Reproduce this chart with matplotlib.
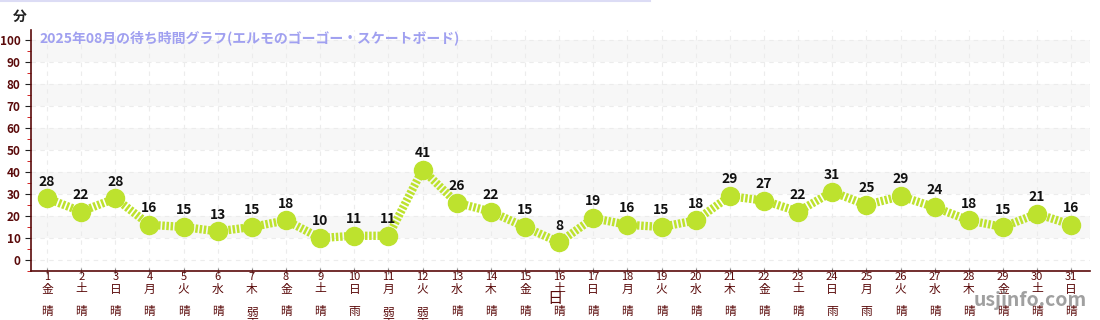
import matplotlib
matplotlib.use("Agg")
import matplotlib.pyplot as plt
from matplotlib.ticker import MultipleLocator

plt.rcParams['font.family'] = ['Noto Sans CJK JP', 'DejaVu Sans']

days = list(range(1, 32))
weekdays = ["金", "土", "日", "月", "火", "水", "木", "金", "土", "日", "月", "火", "水", "木", "金",
            "土", "日", "月", "火", "水", "木", "金", "土", "日", "月", "火", "水", "木", "金", "土", "日"]
weather = ["晴", "晴", "晴", "晴", "晴", "晴", "弱雨", "晴", "晴", "雨", "弱雨", "弱雨", "晴", "晴", "晴",
           "晴", "晴", "晴", "晴", "晴", "晴", "晴", "晴", "雨", "雨", "晴", "晴", "晴", "晴", "晴", "晴"]
wait_min = [28, 22, 28, 16, 15, 13, 15, 18, 10, 11, 11, 41, 26, 22, 15, 8,
            19, 16, 15, 18, 29, 27, 22, 31, 25, 29, 24, 18, 15, 21, 16]

title = "2025年08月の待ち時間グラフ(エルモのゴーゴー・スケートボード)"
axis_red = "#5a0a0a"
green = "#bde22e"

W, H = 1100, 320
ax_bottom_px, ax_top_px = 271, 30
ax_h_px = ax_bottom_px - ax_top_px

fig = plt.figure(figsize=(11, 3.2), dpi=100)
ax = fig.add_axes([31 / W, 1 - ax_bottom_px / H, 1059 / W, ax_h_px / H])


def below(px):
    # axes-fraction y for a figure pixel row below the axes
    return -(px - ax_bottom_px) / ax_h_px


# alternating bands
for lo in range(10, 100, 20):
    ax.axhspan(lo, lo + 10, color="#f7f7f7", zorder=0, lw=0)

ax.plot(days, wait_min, color=green, lw=6, linestyle=(0, (0.3, 0.2)),
        marker="o", markersize=13, markerfacecolor=green, markeredgecolor=green, zorder=3)

for d, v in zip(days, wait_min):
    ax.annotate(str(v), (d, v), xytext=(0, 7), textcoords="offset points",
                ha="center", va="bottom", fontsize=10, fontweight="bold", color="#111111", zorder=4)

ax.set_xlim(0.53, 31.55)
ax.set_ylim(-5, 104.5)
ax.set_xticks(days)
ax.set_xticklabels([])
xt = ax.get_xaxis_transform()
for d, w, wt in zip(days, weekdays, weather):
    ax.text(d, below(277.5), str(d), transform=xt, ha="center", va="center",
            fontsize=8, color=axis_red, clip_on=False)
    ax.text(d, below(289), w, transform=xt, ha="center", va="center",
            fontsize=8.5, color=axis_red, clip_on=False)
    for i, ch in enumerate(wt):
        ax.text(d, below(312 + 12 * i), ch, transform=xt, ha="center", va="center",
                fontsize=8.5, color=axis_red, clip_on=False)

ax.set_yticks(range(0, 101, 10))
ax.yaxis.set_minor_locator(MultipleLocator(5))
ax.tick_params(axis="y", which="major", labelsize=8.5, labelcolor=axis_red, color="#222222", length=4)
ax.tick_params(axis="y", which="minor", color="#cc0000", length=3)
ax.tick_params(axis="x", color="#888888", length=4, direction="inout")
for lbl in ax.get_yticklabels():
    lbl.set_fontweight("bold")

ax.grid(True, which="major", color="#ececec", linestyle=(0, (4, 4)), lw=0.8, zorder=1)
ax.set_axisbelow(True)

for s in ["top", "right"]:
    ax.spines[s].set_visible(False)
for s in ["left", "bottom"]:
    ax.spines[s].set_color(axis_red)
    ax.spines[s].set_linewidth(1.2)

ax.text(0.008, 1.0, title, transform=ax.transAxes, ha="left", va="top",
        fontsize=10, fontweight="bold", color="#a0a0f0")
fig.text(20 / W, 1 - 17 / H, "分", ha="center", va="center", fontsize=10,
         fontweight="bold", color="#222222")
fig.text(555 / W, 1 - 298 / H, "日", ha="center", va="center", fontsize=11,
         color=axis_red)
fig.text(1087 / W, 1 - 301 / H, "usjinfo.com", ha="right", va="center",
         fontsize=14, fontweight="bold", color="#888888", alpha=0.8)
fig.add_artist(plt.Line2D([0, 650 / W], [0.998, 0.998], color="#dcdcf5", lw=1.5,
                          transform=fig.transFigure))

fig.savefig("out.png", dpi=100)
